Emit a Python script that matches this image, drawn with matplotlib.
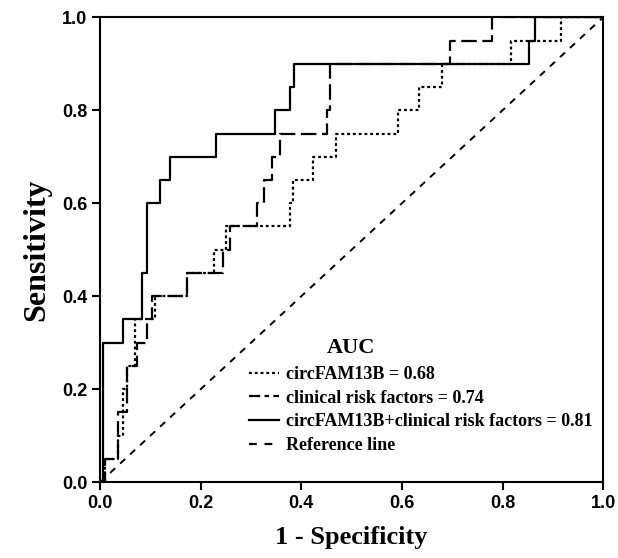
import numpy as np
import matplotlib
matplotlib.use('Agg')
import matplotlib.pyplot as plt
from matplotlib.lines import Line2D

# ROC corner points (1 - specificity, sensitivity)
circ_fpr = [0, 0.009, 0.036, 0.046, 0.053, 0.07, 0.109, 0.172, 0.227, 0.25,
            0.378, 0.384, 0.423, 0.469, 0.593, 0.633, 0.679, 0.816, 0.916, 1.0]
circ_tpr = [0, 0.05, 0.10, 0.20, 0.25, 0.35, 0.40, 0.45, 0.50, 0.55,
            0.60, 0.65, 0.70, 0.75, 0.80, 0.85, 0.90, 0.95, 1.0, 1.0]

clin_fpr = [0, 0.009, 0.036, 0.053, 0.073, 0.093, 0.103, 0.172, 0.245, 0.258,
            0.311, 0.325, 0.341, 0.358, 0.451, 0.457, 0.696, 0.78, 1.0]
clin_tpr = [0, 0.05, 0.15, 0.25, 0.30, 0.35, 0.40, 0.45, 0.50, 0.55,
            0.60, 0.65, 0.70, 0.75, 0.80, 0.90, 0.95, 1.0, 1.0]

comb_fpr = [0, 0.005, 0.046, 0.083, 0.094, 0.119, 0.139, 0.231, 0.348, 0.378,
            0.386, 0.853, 0.865, 1.0]
comb_tpr = [0, 0.30, 0.35, 0.45, 0.60, 0.65, 0.70, 0.75, 0.80, 0.85,
            0.90, 0.95, 1.0, 1.0]

labels = ['circFAM13B = 0.68', 'clinical risk factors = 0.74',
          'circFAM13B+clinical risk factors = 0.81', 'Reference line']
ticks = [0.0, 0.2, 0.4, 0.6, 0.8, 1.0]

serif = ['Liberation Serif', 'DejaVu Serif']
sans = ['Liberation Sans', 'DejaVu Sans']

fig = plt.figure(figsize=(6.18, 5.58), dpi=100)
ax = fig.add_axes([0.162, 0.136, 0.814, 0.833])

dot_ls = (0, (1.3, 1.3))
dash_ls = (0, (7, 2.5))
ref_ls = (0, (3.5, 3.5))

ax.plot(circ_fpr, circ_tpr, drawstyle='steps-post', color='black', lw=1.6, linestyle=dot_ls)
ax.plot(clin_fpr, clin_tpr, drawstyle='steps-post', color='black', lw=1.6, linestyle=dash_ls)
ax.plot(comb_fpr, comb_tpr, drawstyle='steps-post', color='black', lw=1.6)
ax.plot([0, 1], [0, 1], color='black', lw=1.4, linestyle=ref_ls)

ax.set_xlim(0, 1)
ax.set_ylim(0, 1)
ax.set_xticks(ticks)
ax.set_yticks(ticks)
ax.set_xticklabels(['%.1f' % t for t in ticks], family=sans, fontweight='bold', fontsize=13)
ax.set_yticklabels(['%.1f' % t for t in ticks], family=sans, fontweight='bold', fontsize=13)
ax.tick_params(direction='out', length=6, width=1.5, pad=3)
for s in ax.spines.values():
    s.set_linewidth(1.5)

ax.set_xlabel('1 - Specificity', family=serif, fontweight='bold', fontsize=19, labelpad=10)
ax.set_ylabel('Sensitivity', family=serif, fontweight='bold', fontsize=23, labelpad=8)

ax.text(0.499, 0.288, 'AUC', family=serif, fontweight='bold', fontsize=16,
        ha='center', va='center')

handles = [Line2D([], [], color='black', lw=1.6, linestyle=dot_ls),
           Line2D([], [], color='black', lw=1.6, linestyle=(0, (5, 2, 2, 2))),
           Line2D([], [], color='black', lw=1.6),
           Line2D([], [], color='black', lw=1.6, linestyle=ref_ls)]
ax.legend(handles, labels, loc='upper left', bbox_to_anchor=(0.295, 0.25),
          frameon=False, handlelength=1.7, handletextpad=0.4, labelspacing=0.37,
          borderaxespad=0, borderpad=0,
          prop={'family': serif, 'weight': 'bold', 'size': 13})

fig.savefig('out.png', dpi=100)
